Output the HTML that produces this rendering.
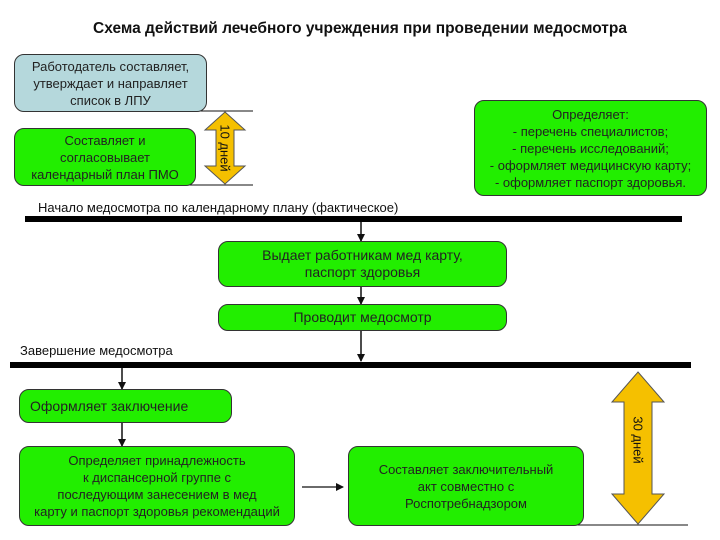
<!DOCTYPE html>
<html><head><meta charset="utf-8"><style>
body{margin:0;width:720px;height:540px;background:#fff;position:relative;overflow:hidden;font-family:"Liberation Sans","DejaVu Sans",sans-serif;}
.b{position:absolute;box-sizing:border-box;border:1.5px solid #333;border-radius:10px;background:#22ee00;color:#222;text-align:center;display:flex;align-items:center;justify-content:center;font-size:13px;line-height:17px;}
.t{position:absolute;font-size:13px;color:#111;white-space:nowrap;}
svg{position:absolute;left:0;top:0;}
</style></head><body>
<svg width="720" height="540">
<defs><marker id="a" markerWidth="8" markerHeight="8" refX="7" refY="4" orient="auto" markerUnits="userSpaceOnUse"><path d="M0,0 L8,4 L0,8 z" fill="#111"/></marker></defs>
<line x1="185" y1="111" x2="253" y2="111" stroke="#111" stroke-width="1"/>
<line x1="185" y1="185" x2="253" y2="185" stroke="#111" stroke-width="1"/>
<polygon points="225,112 245,130 234,130 234,166 245,166 225,184 205,166 216,166 216,130 205,130" fill="#f5c000" stroke="#555" stroke-width="1"/>
<rect x="25" y="216" width="657" height="6" fill="#000"/>
<rect x="10" y="362" width="681" height="6" fill="#000"/>
<line x1="361" y1="222" x2="361" y2="241" stroke="#111" stroke-width="1.5" marker-end="url(#a)"/>
<line x1="361" y1="287" x2="361" y2="304" stroke="#111" stroke-width="1.5" marker-end="url(#a)"/>
<line x1="361" y1="330" x2="361" y2="361" stroke="#111" stroke-width="1.5" marker-end="url(#a)"/>
<line x1="122" y1="368" x2="122" y2="389" stroke="#111" stroke-width="1.5" marker-end="url(#a)"/>
<line x1="122" y1="423" x2="122" y2="446" stroke="#111" stroke-width="1.5" marker-end="url(#a)"/>
<line x1="302" y1="487" x2="343" y2="487" stroke="#111" stroke-width="1.2" marker-end="url(#a)"/>
<line x1="575" y1="525" x2="688" y2="525" stroke="#111" stroke-width="1"/>
<polygon points="638,372 664,402 652,402 652,494 664,494 638,524 612,494 624,494 624,402 612,402" fill="#f5c000" stroke="#555" stroke-width="1"/>
</svg>
<div class="t" style="left:0;width:720px;top:20px;text-align:center;font-size:15.5px;font-weight:bold;">Схема действий лечебного учреждения при проведении медосмотра</div>
<div class="b" style="left:14px;top:54px;width:193px;height:58px;background:#b5d8dc;">Работодатель составляет,<br>утверждает и направляет<br>список в ЛПУ</div>
<div class="b" style="left:14px;top:128px;width:182px;height:58px;">Составляет и<br>согласовывает<br>календарный план ПМО</div>
<div class="t" style="left:225px;top:148px;transform:translate(-50%,-50%) rotate(90deg);">10 дней</div>
<div class="b" style="left:474px;top:100px;width:233px;height:96px;">Определяет:<br>- перечень специалистов;<br>- перечень исследований;<br>- оформляет медицинскую карту;<br>- оформляет паспорт здоровья.</div>
<div class="t" style="left:38px;top:200px;">Начало медосмотра по календарному плану (фактическое)</div>
<div class="b" style="left:218px;top:241px;width:289px;height:46px;font-size:14px;">Выдает работникам мед карту,<br>паспорт здоровья</div>
<div class="b" style="left:218px;top:304px;width:289px;height:27px;font-size:14px;">Проводит медосмотр</div>
<div class="t" style="left:20px;top:343px;">Завершение медосмотра</div>
<div class="b" style="left:19px;top:389px;width:213px;height:34px;font-size:14px;justify-content:flex-start;padding-left:10px;">Оформляет заключение</div>
<div class="b" style="left:19px;top:446px;width:276px;height:80px;">Определяет принадлежность<br>к диспансерной группе с<br>последующим занесением в мед<br>карту и паспорт здоровья рекомендаций</div>
<div class="b" style="left:348px;top:446px;width:236px;height:80px;">Составляет заключительный<br>акт совместно с<br>Роспотребнадзором</div>
<div class="t" style="left:638px;top:440px;transform:translate(-50%,-50%) rotate(90deg);">30 дней</div>
</body></html>
